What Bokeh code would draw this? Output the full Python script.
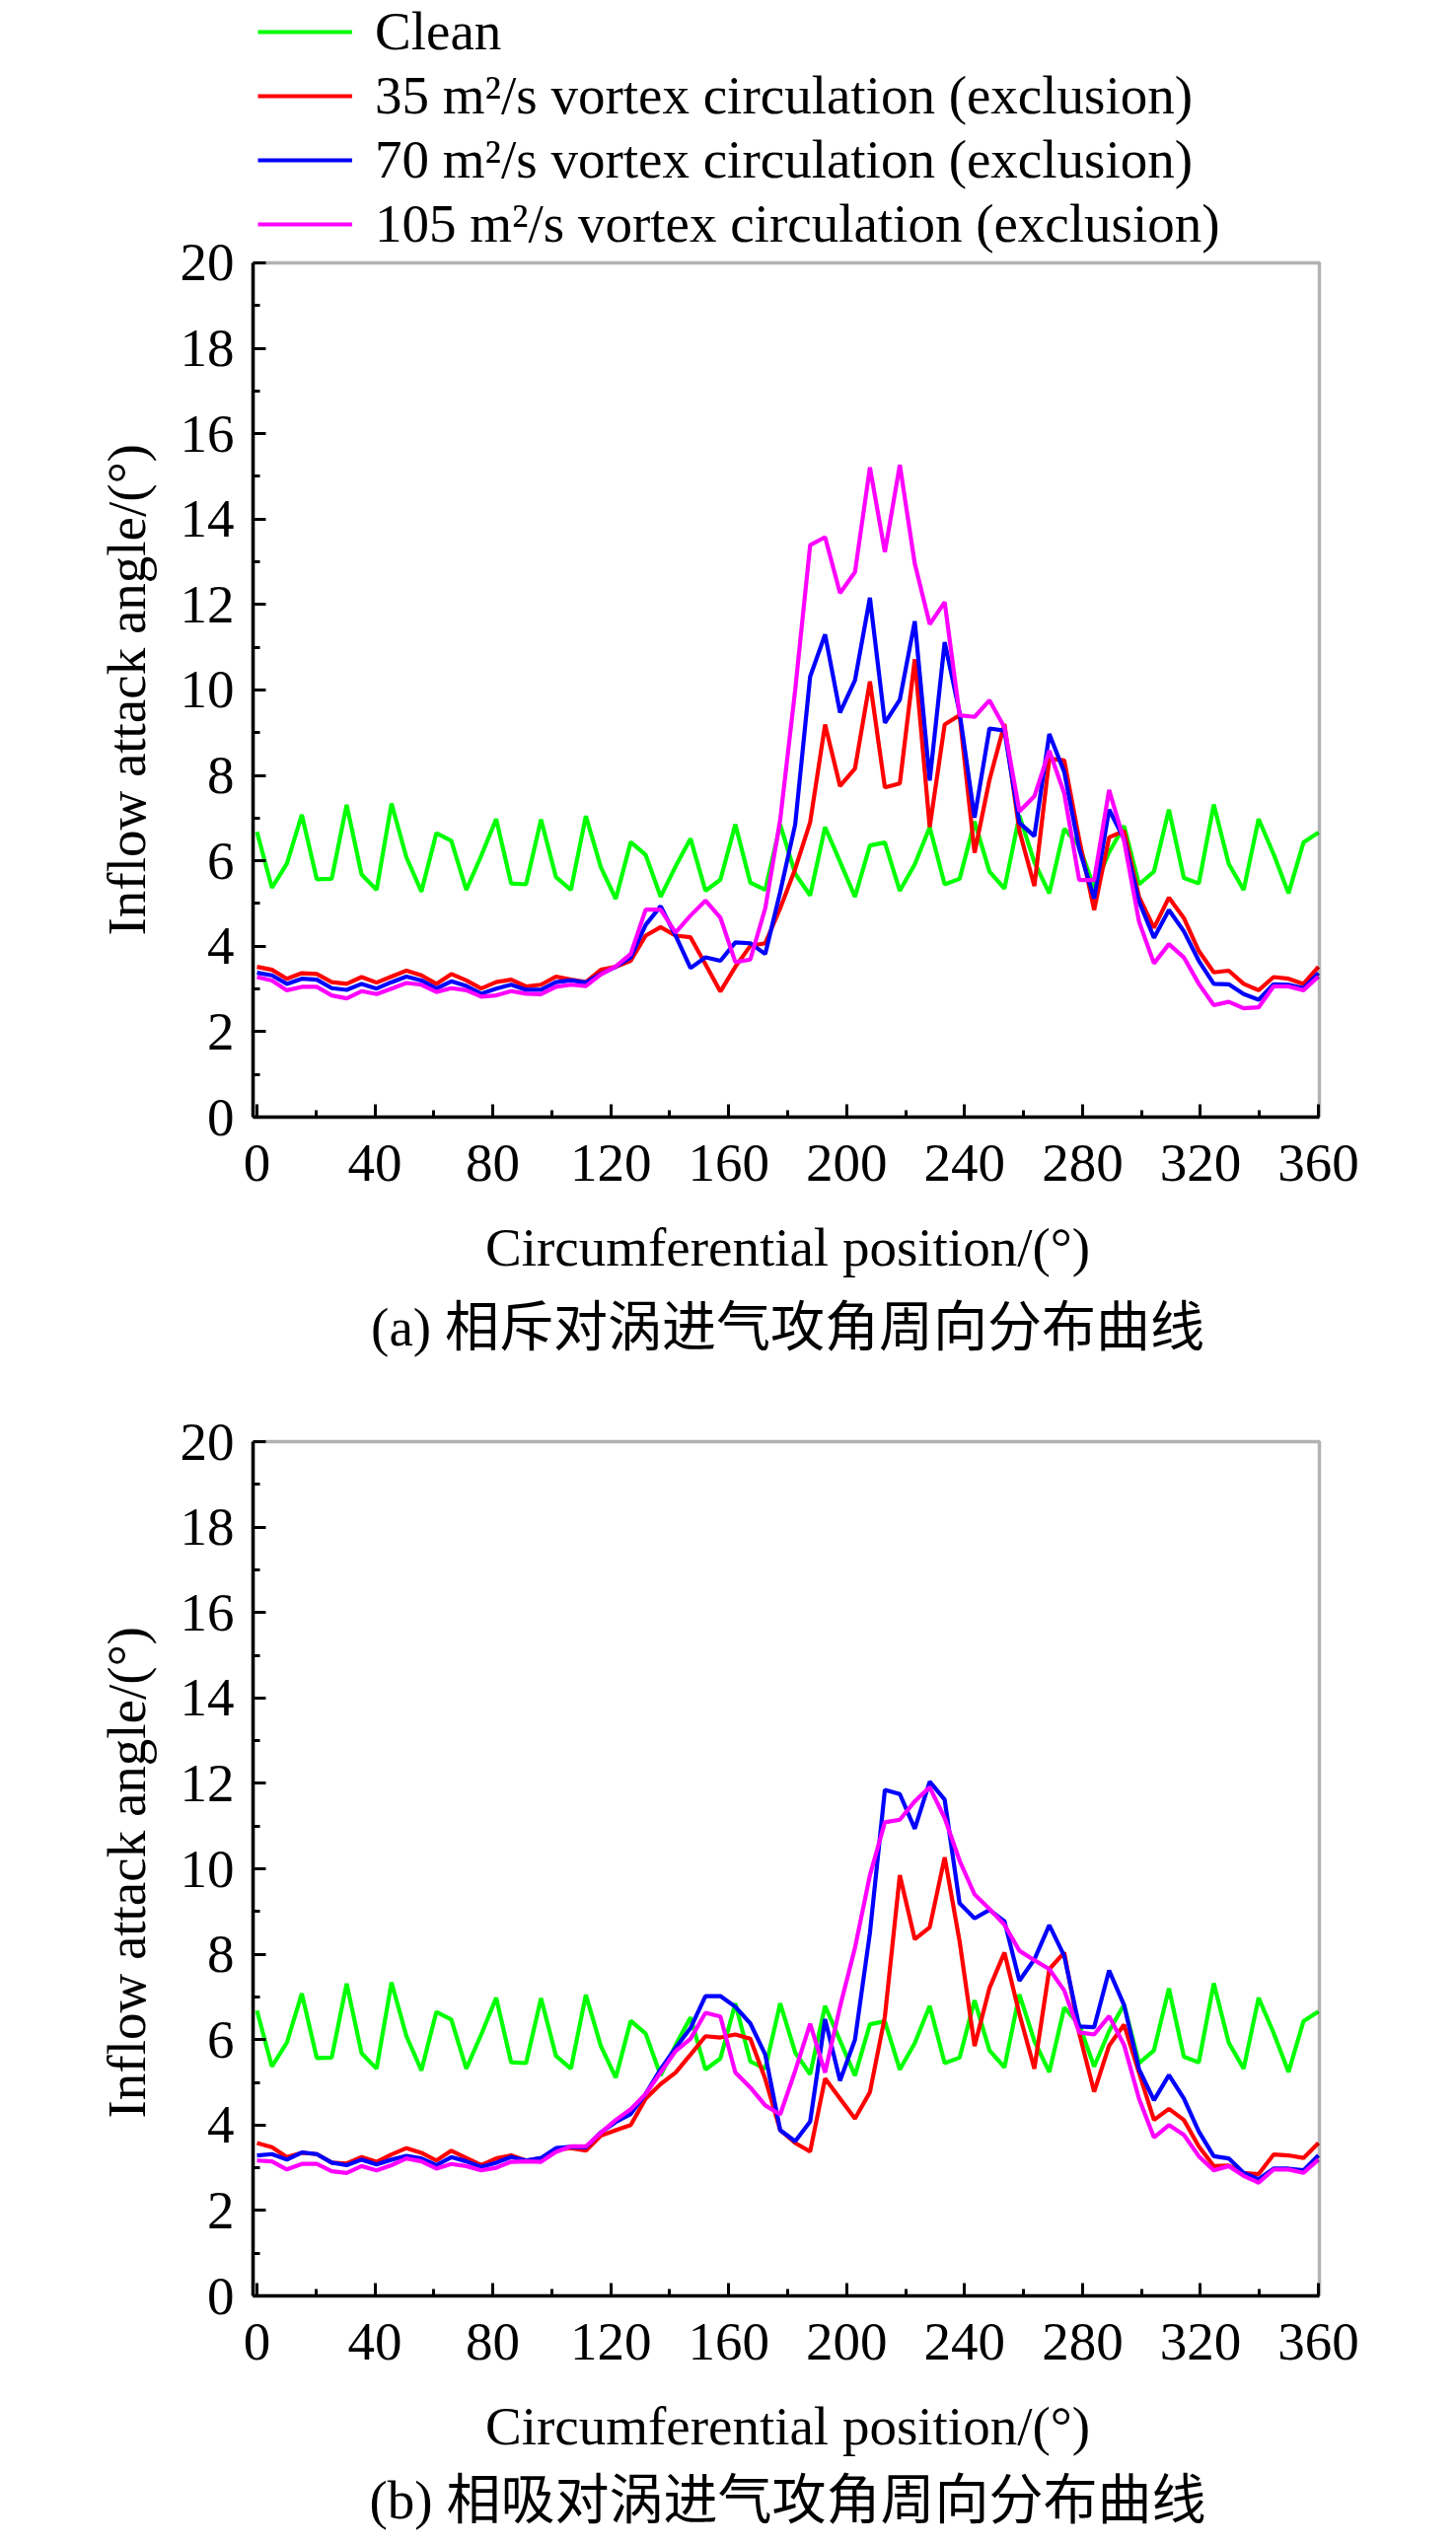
from bokeh.plotting import figure
from bokeh.models import Legend, LegendItem, FixedTicker, Range1d, Title, BoxAnnotation
from bokeh.layouts import column
from bokeh.embed import file_html
from bokeh.resources import INLINE

# circumferential positions (deg)
positions = [0.0, 5.07, 10.14, 15.21, 20.28, 25.35, 30.42, 35.49, 40.56, 45.63,
             50.70, 55.77, 60.85, 65.92, 70.99, 76.06, 81.13, 86.20, 91.27, 96.34,
             101.41, 106.48, 111.55, 116.62, 121.69, 126.76, 131.83, 136.90, 141.97, 147.04,
             152.11, 157.18, 162.25, 167.32, 172.39, 177.46, 182.54, 187.61, 192.68, 197.75,
             202.82, 207.89, 212.96, 218.03, 223.10, 228.17, 233.24, 238.31, 243.38, 248.45,
             253.52, 258.59, 263.66, 268.73, 273.80, 278.87, 283.94, 289.01, 294.08, 299.15,
             304.23, 309.30, 314.37, 319.44, 324.51, 329.58, 334.65, 339.72, 344.79, 349.86,
             354.93, 360.0]

clean = [6.68, 5.37, 5.93, 7.08, 5.57, 5.58, 7.31, 5.68, 5.32, 7.34,
         6.08, 5.28, 6.65, 6.47, 5.32, 6.12, 6.98, 5.47, 5.45, 6.97,
         5.62, 5.32, 7.05, 5.85, 5.11, 6.44, 6.14, 5.16, 5.87, 6.52,
         5.30, 5.56, 6.85, 5.49, 5.32, 6.85, 5.70, 5.19, 6.79, 5.98,
         5.16, 6.36, 6.43, 5.30, 5.92, 6.79, 5.45, 5.58, 6.92, 5.75,
         5.35, 7.06, 5.97, 5.24, 6.75, 6.35, 5.37, 6.20, 6.82, 5.45,
         5.75, 7.20, 5.60, 5.47, 7.32, 5.93, 5.32, 6.98, 6.16, 5.24,
         6.43, 6.66]

# (a) exclusion vortex pair
a_35 = [3.52, 3.45, 3.24, 3.37, 3.35, 3.16, 3.12, 3.28, 3.15, 3.29,
        3.43, 3.32, 3.12, 3.35, 3.20, 3.01, 3.16, 3.22, 3.06, 3.10,
        3.29, 3.22, 3.16, 3.45, 3.52, 3.66, 4.25, 4.45, 4.25, 4.21,
        3.58, 2.94, 3.52, 4.01, 4.07, 4.89, 5.81, 6.90, 9.19, 7.75,
        8.16, 10.20, 7.72, 7.81, 10.72, 6.79, 9.19, 9.41, 6.19, 7.90,
        9.20, 6.70, 5.41, 8.39, 8.35, 6.50, 4.85, 6.55, 6.70, 5.16,
        4.43, 5.14, 4.66, 3.89, 3.39, 3.43, 3.12, 2.97, 3.28, 3.24,
        3.12, 3.52]
a_70 = [3.38, 3.32, 3.12, 3.24, 3.22, 3.02, 2.98, 3.12, 3.01, 3.16,
        3.29, 3.20, 3.01, 3.18, 3.07, 2.89, 3.01, 3.10, 2.98, 2.98,
        3.16, 3.20, 3.15, 3.35, 3.52, 3.74, 4.50, 4.94, 4.25, 3.49,
        3.74, 3.66, 4.09, 4.07, 3.82, 5.27, 6.85, 10.31, 11.30, 9.47,
        10.23, 12.16, 9.23, 9.77, 11.61, 7.88, 11.12, 9.47, 7.01, 9.10,
        9.05, 6.89, 6.58, 8.97, 8.08, 6.28, 5.12, 7.20, 6.51, 5.05,
        4.20, 4.85, 4.35, 3.66, 3.12, 3.11, 2.88, 2.75, 3.11, 3.10,
        3.02, 3.37]
a_105 = [3.28, 3.20, 2.97, 3.05, 3.05, 2.85, 2.78, 2.95, 2.88, 3.01,
         3.14, 3.10, 2.93, 3.02, 2.97, 2.82, 2.85, 2.95, 2.89, 2.88,
         3.05, 3.10, 3.07, 3.34, 3.53, 3.82, 4.86, 4.86, 4.32, 4.72,
         5.07, 4.67, 3.63, 3.69, 4.89, 6.96, 10.00, 13.39, 13.58, 12.27,
         12.76, 15.21, 13.23, 15.27, 12.96, 11.54, 12.06, 9.41, 9.37, 9.76,
         9.12, 7.16, 7.51, 8.58, 7.58, 5.55, 5.55, 7.66, 6.47, 4.58,
         3.60, 4.05, 3.74, 3.12, 2.62, 2.70, 2.55, 2.57, 3.06, 3.06,
         2.97, 3.29]

# (b) attraction vortex pair
b_35 = [3.58, 3.48, 3.25, 3.35, 3.32, 3.12, 3.10, 3.25, 3.14, 3.31,
        3.46, 3.35, 3.17, 3.40, 3.23, 3.06, 3.22, 3.29, 3.17, 3.22,
        3.42, 3.46, 3.40, 3.75, 3.88, 4.00, 4.62, 4.96, 5.23, 5.65,
        6.08, 6.05, 6.12, 6.02, 5.08, 3.88, 3.58, 3.38, 5.09, 4.62,
        4.15, 4.77, 6.54, 9.85, 8.35, 8.63, 10.27, 8.30, 5.85, 7.21,
        8.04, 6.60, 5.32, 7.65, 8.04, 6.15, 4.78, 5.86, 6.35, 5.23,
        4.12, 4.38, 4.12, 3.50, 3.04, 3.05, 2.88, 2.85, 3.31, 3.29,
        3.23, 3.58]
b_70 = [3.29, 3.32, 3.19, 3.36, 3.32, 3.12, 3.06, 3.19, 3.08, 3.19,
        3.28, 3.22, 3.06, 3.25, 3.15, 3.02, 3.12, 3.25, 3.17, 3.23,
        3.46, 3.49, 3.48, 3.83, 4.07, 4.26, 4.73, 5.31, 5.81, 6.27,
        7.02, 7.02, 6.77, 6.38, 5.65, 3.88, 3.62, 4.08, 6.48, 5.04,
        6.00, 8.50, 11.85, 11.75, 10.94, 12.04, 11.62, 9.19, 8.84, 9.04,
        8.77, 7.38, 7.88, 8.68, 7.96, 6.31, 6.29, 7.62, 6.81, 5.31,
        4.58, 5.17, 4.62, 3.85, 3.27, 3.22, 2.88, 2.73, 2.98, 2.98,
        2.94, 3.29]
b_105 = [3.17, 3.15, 2.96, 3.09, 3.09, 2.92, 2.88, 3.04, 2.94, 3.06,
         3.22, 3.15, 2.98, 3.09, 3.04, 2.94, 3.00, 3.14, 3.15, 3.14,
         3.37, 3.50, 3.50, 3.82, 4.12, 4.37, 4.73, 5.23, 5.73, 6.02,
         6.63, 6.54, 5.23, 4.88, 4.46, 4.25, 5.27, 6.37, 5.23, 6.77,
         8.15, 9.85, 11.09, 11.15, 11.58, 11.91, 11.19, 10.19, 9.40, 9.06,
         8.69, 8.08, 7.86, 7.65, 7.15, 6.17, 6.12, 6.55, 5.88, 4.62,
         3.71, 4.00, 3.77, 3.27, 2.94, 3.04, 2.81, 2.65, 2.96, 2.96,
         2.88, 3.19]

series_names = ["Clean",
                "35 m\u00b2/s vortex circulation (exclusion)",
                "70 m\u00b2/s vortex circulation (exclusion)",
                "105 m\u00b2/s vortex circulation (exclusion)"]
series_colors = ["#00ff00", "#ff0000", "#0000ff", "#ff00ff"]
x_ticks = [0, 40, 80, 120, 160, 200, 240, 280, 320, 360]
x_minor = [20, 60, 100, 140, 180, 220, 260, 300, 340]
y_ticks = [0, 2, 4, 6, 8, 10, 12, 14, 16, 18, 20]
y_minor = [1, 3, 5, 7, 9, 11, 13, 15, 17, 19]
captions = ["(a) 相斥对涡进气攻角周向分布曲线", "(b) 相吸对涡进气攻角周向分布曲线"]
x_label = "Circumferential position/(\u00b0)"
y_label = "Inflow attack angle/(\u00b0)"

SERIF = "Liberation Serif"
FS = "55px"
LW = 4.2
W = 1468
X0, X1 = -1.34, 360.33      # plot box in data units
X1_VIEW = 361.33            # a little room so the right box edge is not clipped
Y0, Y1 = 0, 20


def make_fig(height, top, bottom, data, caption, y_end, cap_standoff, ylab_offset, with_legend):
    p = figure(width=W, height=height, output_backend="svg", toolbar_location=None,
               x_range=Range1d(X0, X1_VIEW), y_range=Range1d(Y0, y_end),
               min_border_left=256, min_border_right=128,
               min_border_top=top, min_border_bottom=bottom,
               title_location=None)
    p.background_fill_color = "white"
    p.border_fill_color = "white"
    p.xgrid.visible = False
    p.ygrid.visible = False
    p.outline_line_color = None
    # plot box around the 0-20 region
    p.add_layout(BoxAnnotation(left=X0, right=X1, bottom=Y0, top=Y1,
                               fill_alpha=0, line_color="black", line_width=3.5))

    p.xaxis.ticker = FixedTicker(ticks=x_ticks, minor_ticks=x_minor)
    p.yaxis.ticker = FixedTicker(ticks=y_ticks, minor_ticks=y_minor)
    p.yaxis.bounds = (Y0, Y1)
    p.xaxis.bounds = (X0, X1)
    p.xaxis.axis_label = x_label
    for ax in (p.xaxis[0], p.yaxis[0]):
        ax.axis_line_width = 3.5
        ax.axis_line_color = "black"
        ax.major_tick_line_width = 3
        ax.minor_tick_line_width = 3
        ax.major_tick_line_color = "black"
        ax.minor_tick_line_color = "black"
        ax.major_tick_in = 13
        ax.major_tick_out = 0
        ax.minor_tick_in = 7
        ax.minor_tick_out = 0
        ax.major_label_text_font = SERIF
        ax.major_label_text_font_size = FS
        ax.major_label_text_color = "black"
        ax.axis_label_text_font = SERIF
        ax.axis_label_text_font_size = FS
        ax.axis_label_text_font_style = "normal"
        ax.axis_label_text_color = "black"
    p.xaxis.major_label_standoff = 28
    p.xaxis.axis_label_standoff = 34
    p.yaxis.major_label_standoff = 19

    # y-axis title, positioned along the 0-20 box
    p.add_layout(Title(text=y_label, align="left", text_font=SERIF, text_font_size=FS,
                       text_font_style="normal", text_color="black",
                       standoff=42, offset=ylab_offset), "left")

    renderers = []
    for vals, col in zip(data, series_colors):
        renderers.append(p.line(positions, vals, line_color=col, line_width=LW))

    if with_legend:
        items = [LegendItem(label=n, renderers=[r]) for n, r in zip(series_names, renderers)]
        leg = Legend(items=items, location=(5, 874),
                     label_text_font=SERIF, label_text_font_size=FS,
                     label_text_color="black",
                     glyph_width=96, glyph_height=40, label_height=40,
                     label_standoff=23, spacing=2, padding=0, margin=0,
                     border_line_color=None, background_fill_alpha=0)
        p.add_layout(leg, "center")

    t = Title(text=caption, align="center",
              text_font="'Liberation Serif', 'Noto Sans CJK SC'",
              text_font_size=FS, text_font_style="normal", text_color="black",
              standoff=cap_standoff)
    p.add_layout(t, "below")
    return p


# panel (a): frame reaches the canvas top so the legend sits above the 0-20 box
p1 = make_fig(1396, 0, 264, [clean, a_35, a_70, a_105], captions[0], 26.143, 30, 184, True)
p2 = make_fig(1183, 62, 252, [clean, b_35, b_70, b_105], captions[1], 20.07, 19, 180, False)

layout = column(p1, p2)
open("out.html", "w").write(file_html(layout, INLINE))
